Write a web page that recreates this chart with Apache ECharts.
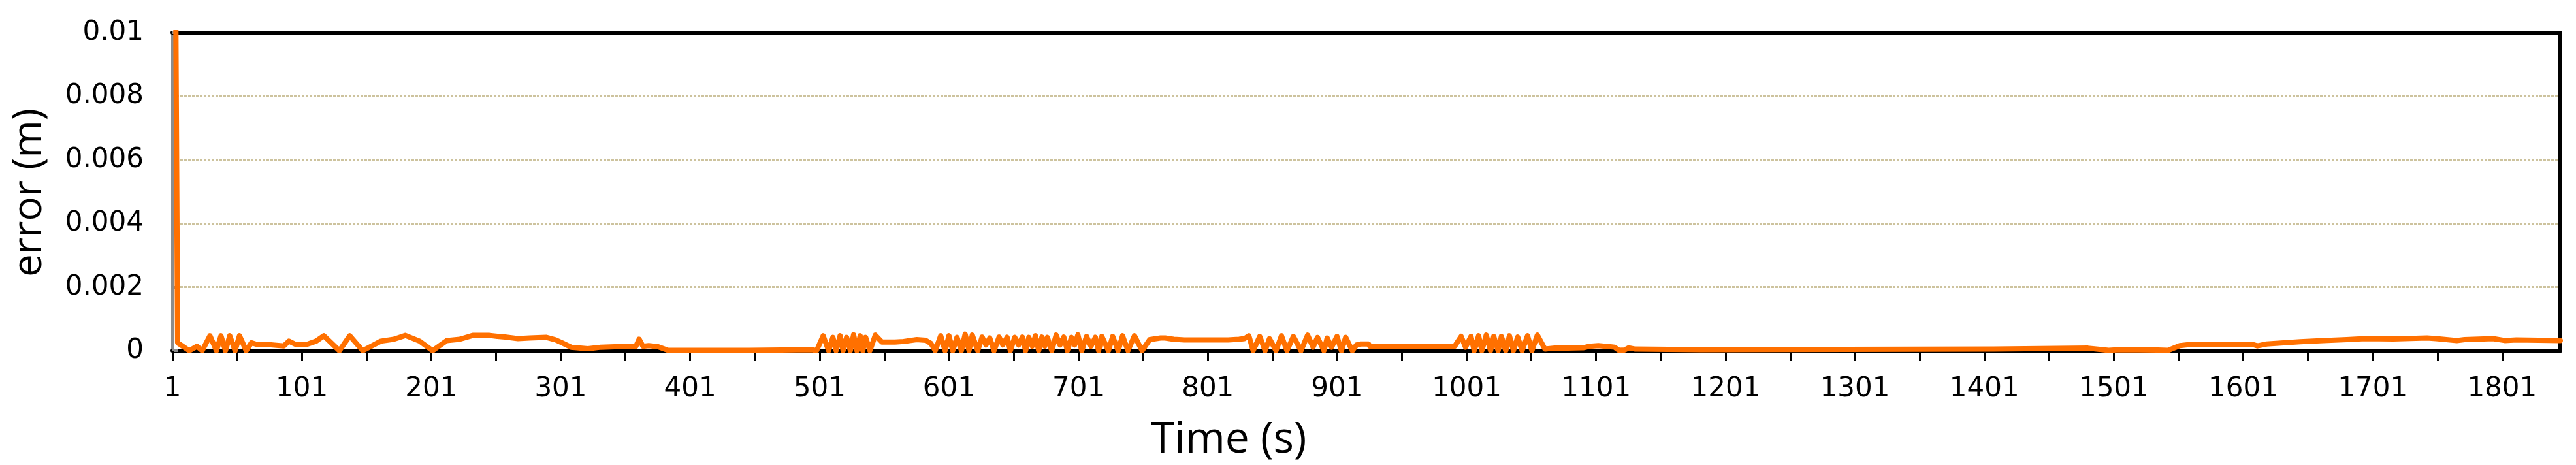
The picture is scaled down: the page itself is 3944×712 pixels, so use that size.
<!DOCTYPE html>
<html><head><meta charset="utf-8">
<script src="https://cdn.jsdelivr.net/npm/echarts@6/dist/echarts.min.js"></script>
<style>html,body{margin:0;padding:0;background:#fff}#c{width:3944px;height:712px}</style>
</head><body><div id="c"></div>
<script>
// Time stamps (s) of the polyline vertices
const timeSec = [
  1, 5, 14, 20, 24, 30, 35, 38.5, 42, 45.3, 49.4, 52.8, 58, 62, 66, 73, 87, 91, 96, 105,
  112, 118, 130, 138, 148, 155, 162, 172, 181, 192, 202, 213, 223, 233, 246, 252, 258, 268, 277, 290,
  297, 302, 309, 322, 332, 346, 359, 361.6, 364.5, 369, 376, 384, 446.6, 447.4, 495.4, 498.7,
  503.8, 508, 511.3, 513.8, 516.9, 519.2, 521.9, 524.8, 527.3, 529.8, 532.4, 534.4, 536.6, 539.9, 544.1,
  549.2, 559.3, 566, 576.1, 582.8, 587, 590.4,
  594.6, 598.0, 601.0, 603.9, 607.2, 610.6, 613.5, 616.5, 619.0, 623.2, 626.6, 629.6, 632.5, 635.8,
  639.7, 642.6, 645.9, 648.4, 651.8, 654.8, 657.7, 660.2, 662.7, 665.3, 667.8, 670.3, 672.8, 675.0,
  677.0, 680.4, 683.8, 686.8, 689.7, 692.5, 695.6, 698.1, 700.6, 703.6, 707.3, 710.7, 714.1, 716.6,
  719.1, 724.2, 727.5, 731.7, 735.1, 739.3, 744.3, 750.2,
  756.1, 764.5, 768, 774.6, 783, 816.7, 825.1, 829.3,
  832.7, 836.0, 841.1, 845.3, 848.6, 853.7, 857.9, 862.1, 867.1, 873.0, 878.1, 882.3, 885.7, 890.7,
  893.2, 896.6, 900.8, 904.2, 907.5, 912.6, 915.9, 919.3, 925.2, 926.0, 991.7,
  996.7, 1000.1, 1004.3, 1006.8, 1010.2, 1012.7, 1016.1, 1019.4, 1021.9, 1025.3, 1027.8, 1031.2,
  1034.0, 1037.1, 1040.4, 1043.8, 1048.0, 1051.4, 1055.6,
  1061.5, 1069, 1079, 1091, 1096, 1102.7, 1111, 1115.3, 1118.7, 1122.9, 1126.2, 1131.3, 1181.8, 1182.6,
  1408, 1409, 1481, 1490, 1497, 1505, 1535, 1543, 1552, 1561, 1608, 1612, 1619, 1645, 1663, 1681,
  1695, 1717, 1743, 1750, 1766, 1772, 1794, 1803, 1812, 1846
];
// Position error (m) at each time stamp
const errorM = [
  0.03, 0.00025, 0, 0.00014, 0, 0.00047, 0, 0.00047, 0, 0.00047, 0, 0.00047, 0, 0.00025, 0.0002, 0.0002, 0.00015, 0.0003, 0.0002, 0.0002,
  0.0003, 0.00047, 0, 0.00047, 0, 0.00015, 0.0003, 0.00036, 0.00048, 0.0003, 0, 0.00032, 0.00036, 0.00048, 0.00048, 0.00045, 0.00043, 0.00038, 0.0004, 0.00042,
  0.00034, 0.00025, 0.00011, 0.00006, 0.00011, 0.00013, 0.00013, 0.00036, 0.00014, 0.00016, 0.00013, 0.00001, 0.00001, 0.00003, 0.00003, 0,
  0.00047, 0, 0.00042, 0, 0.00047, 0, 0.00042, 0, 0.0005, 0, 0.00047, 0, 0.00042, 0, 0.00049,
  0.00027, 0.00027, 0.00029, 0.00035, 0.00033, 0.00023, 0,
  0.00047, 0, 0.00047, 0, 0.00042, 0, 0.00052, 0, 0.00049, 0, 0.00043, 0.00018, 0.0004, 0,
  0.00043, 0.00018, 0.00042, 0, 0.00042, 0.00018, 0.00043, 0, 0.00042, 0.00014, 0.00047, 0, 0.00043, 0.00014,
  0.00042, 0, 0.00049, 0.00018, 0.00043, 0, 0.00042, 0.00018, 0.0005, 0, 0.00045, 0.00014, 0.00042, 0,
  0.00045, 0, 0.00045, 0, 0.00047, 0, 0.00047, 0,
  0.00035, 0.0004, 0.0004, 0.00036, 0.00034, 0.00034, 0.00036, 0.00038,
  0.00047, 0, 0.00045, 0, 0.00038, 0, 0.00047, 0, 0.00045, 0, 0.00049, 0.00011, 0.00042, 0,
  0.0004, 0.00011, 0.00045, 0, 0.00042, 0, 0.00018, 0.00021, 0.00021, 0.00014, 0.00014,
  0.00045, 0.00011, 0.00045, 0, 0.00047, 0, 0.00049, 0, 0.00045, 0, 0.00045, 0,
  0.00047, 0, 0.00043, 0, 0.00047, 0, 0.00049,
  0.00005, 0.00008, 0.00008, 0.00009, 0.00014, 0.00016, 0.00013, 0.00011, 0.00001, 0.00002, 0.00009, 0.00005, 0.00003, 0.00005,
  0.00005, 0.00008, 0.00008, 0.00004, 0.00001, 0.00003, 0.00002, 0.00001, 0.00016, 0.0002, 0.0002, 0.00015, 0.00021, 0.00028, 0.00032, 0.00035,
  0.00038, 0.00037, 0.0004, 0.00038, 0.00032, 0.00035, 0.00038, 0.00032, 0.00034, 0.00032
];
const xTickLabels = ['1','101','201','301','401','501','601','701','801','901','1001','1101','1201','1301','1401','1501','1601','1701','1801'];
const yTickLabels = ['0','0.002','0.004','0.006','0.008','0.01'];
const xTitle = 'Time (s)';
const yTitle = 'error (m)';

const tMin = 1, tMax = 1846;
const seriesData = timeSec.map((t, i) => [t - tMin, errorM[i]]);

const chart = echarts.init(document.getElementById('c'), null, {renderer: 'canvas'});
const tickFont = {fontFamily: 'DejaVu Sans', fontSize: 42, color: '#000'};
chart.setOption({
  animation: false,
  backgroundColor: '#fff',
  grid: {left: 264, right: 24, top: 50, bottom: 175, containLabel: false},
  xAxis: [{
    type: 'value', position: 'bottom', min: 0, max: tMax - tMin, interval: 50,
    axisLine: {show: true, onZero: false, lineStyle: {color: '#000', width: 6}},
    axisTick: {show: true, inside: false, length: 15, lineStyle: {color: '#000', width: 3}},
    axisLabel: Object.assign({margin: 38, showMaxLabel: false,
      formatter: v => (v % 100 === 0 && v / 100 < xTickLabels.length) ? xTickLabels[v / 100] : ''}, tickFont),
    splitLine: {show: false}
  }, {
    type: 'value', position: 'top', min: 0, max: tMax - tMin,
    axisLine: {show: true, onZero: false, lineStyle: {color: '#000', width: 6}},
    axisTick: {show: false}, axisLabel: {show: false}, splitLine: {show: false}
  }],
  yAxis: [{
    type: 'value', position: 'left', min: 0, max: 0.01, interval: 0.002,
    axisLine: {show: true, onZero: false, lineStyle: {color: '#8c8c8c', width: 5}},
    axisTick: {show: true, inside: true, length: 8, lineStyle: {color: '#8c8c8c', width: 4}},
    axisLabel: Object.assign({margin: 44,
      formatter: v => yTickLabels[Math.round(v / 0.002)]}, tickFont),
    splitLine: {show: true, lineStyle: {color: '#cdc39e', width: 3, type: [4, 2]}}
  }, {
    type: 'value', position: 'right', min: 0, max: 0.01,
    axisLine: {show: true, onZero: false, lineStyle: {color: '#000', width: 6}},
    axisTick: {show: false}, axisLabel: {show: false}, splitLine: {show: false}
  }],
  series: [{
    type: 'line', xAxisIndex: 0, yAxisIndex: 0, data: seriesData,
    showSymbol: false, symbol: 'none', clip: true, z: 5,
    lineStyle: {color: '#ff7000', width: 8, cap: 'round', join: 'round'}
  }],
  graphic: [{
    type: 'text', x: 1881, y: 674,
    style: {text: xTitle, fontFamily: 'Open Sans', fontSize: 66, fill: '#000', align: 'center', verticalAlign: 'middle'}
  }, {
    type: 'text', x: 45, y: 295, rotation: Math.PI / 2,
    style: {text: yTitle, fontFamily: 'Open Sans', fontSize: 62, fill: '#000', align: 'center', verticalAlign: 'middle'}
  }]
});
</script>
</body></html>
